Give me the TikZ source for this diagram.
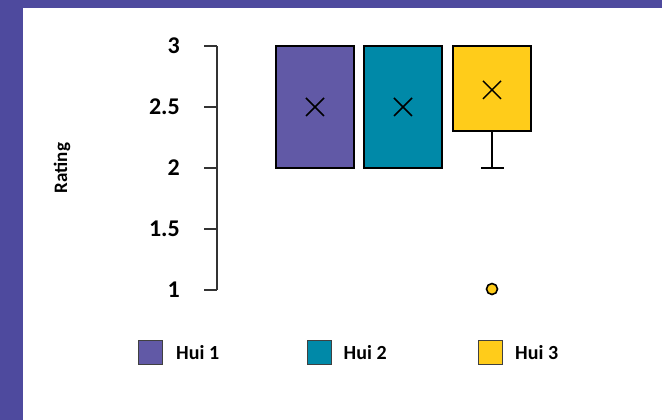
\documentclass[tikz,border=0pt]{standalone}
\usepackage{fontspec}
\setmainfont{Carlito}
\usetikzlibrary{positioning}
\definecolor{frame}{RGB}{78,74,158}
\definecolor{huiA}{RGB}{97,89,166}
\definecolor{huiB}{RGB}{0,137,168}
\definecolor{huiC}{RGB}{255,204,26}
\tikzset{
  box/.style={draw=black, line width=1.8pt},
  meanx/.style={line width=1.5pt},
  key/.style={draw=black!75, line width=1pt, minimum size=24pt, inner sep=0pt},
  keytext/.style={font=\bfseries\fontsize{20}{20}\selectfont, inner sep=0pt, anchor=west},
  ticklabel/.style={font=\bfseries\fontsize{24}{24}\selectfont, anchor=east, inner sep=0pt}
}

\begin{document}
\begin{tikzpicture}[x=1pt,y=1pt]
\useasboundingbox (0,0) rectangle (662,420);
\fill[frame] (0,0) rectangle (662,420);
\fill[white] (23,0) rectangle (662,412);
% axis: rating value v sits at 8+122v
\begin{scope}[y=122pt, yshift=8pt]
\draw[line width=1.3pt, black!80] (217,1)--(217,3);
\foreach \v/\t in {1/1, 1.5/1.5, 2/2, 2.5/2.5, 3/3}{
  \draw[line width=1.3pt, black!80] (204,\v)--(217,\v);
  \node[ticklabel] (tick\v) at (180,\v) {\t};
}
\node[rotate=90, font=\bfseries\fontsize{19}{19}\selectfont] (rating) at (62,2) {Rating};
% boxes
\filldraw[box, fill=huiA] (276,2) rectangle (354,3);
\filldraw[box, fill=huiB] (364,2) rectangle (442,3);
\filldraw[box, fill=huiC] (453,2.3) rectangle (531,3);
\draw[line width=1.6pt] (492,2.3)--(492,2);
\draw[line width=1.6pt] (481,2)--(504,2);
\filldraw[fill=huiC, line width=1.6pt] (492,1.008) circle (5.5pt);
% means
\foreach \x/\m in {315/2.5, 403/2.5, 492/2.64}{
  \draw[meanx] ([shift={(-9pt,-9pt)}]\x,\m)--([shift={(9pt,9pt)}]\x,\m);
  \draw[meanx] ([shift={(-9pt,9pt)}]\x,\m)--([shift={(9pt,-9pt)}]\x,\m);
}
\end{scope}
% legend
\node[key, fill=huiA] (keyA) at (150.5,67.5) {};
\node[keytext, right=13pt of keyA] (labA) {Hui 1};
\node[key, fill=huiB] (keyB) at (319,67.5) {};
\node[keytext, right=12pt of keyB] (labB) {Hui 2};
\node[key, fill=huiC] (keyC) at (490.5,67.5) {};
\node[keytext, right=12pt of keyC] (labC) {Hui 3};
\end{tikzpicture}
\end{document}
